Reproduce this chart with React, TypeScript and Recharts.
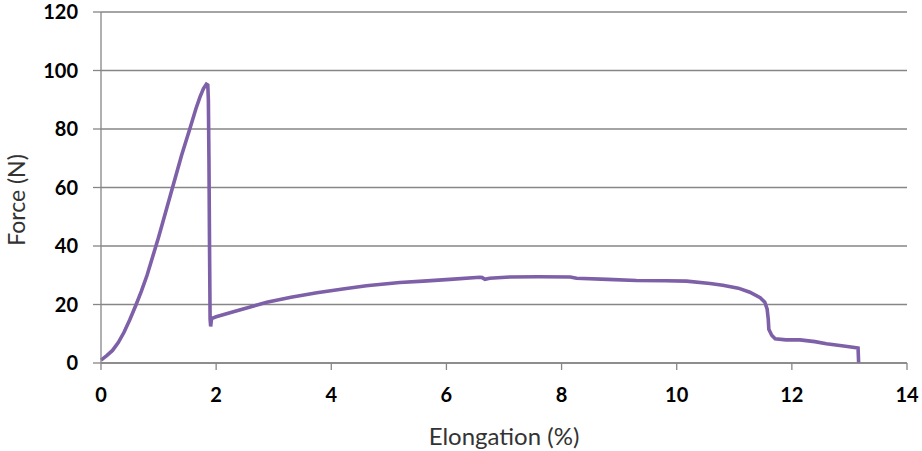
import { LineChart, Line, XAxis, YAxis, CartesianGrid } from "recharts";

// elongation (%) and force (N)
const elongation = [
  0, 0.1, 0.2, 0.3, 0.4, 0.5, 0.6, 0.7, 0.8, 0.9, 1.0, 1.2, 1.4,
  1.55, 1.65, 1.72, 1.78, 1.83, 1.855, 1.865, 1.875, 1.885, 1.895, 1.905,
  1.92, 2.0, 2.3, 2.88, 3.3, 3.75, 4.2, 4.61, 5.19, 5.6, 6.06, 6.58, 6.62,
  6.67, 6.75, 7.1, 7.6, 8.15, 8.26, 8.8, 9.3, 9.8, 10.17, 10.58, 10.8, 11.07,
  11.27, 11.45, 11.53, 11.57, 11.59, 11.6, 11.65, 11.71, 11.9, 12.14, 12.4,
  12.6, 12.9, 13.12, 13.15, 13.16,
];
const force = [
  1, 2.5, 4.3, 7, 10.5, 14.8, 19.5, 24.5, 30, 36.5, 43, 57, 71, 80.5, 87, 91,
  93.8, 95.3, 95, 90, 70, 40, 15, 12.5, 15.2, 15.8, 17.5, 20.8, 22.5, 24,
  25.3, 26.4, 27.5, 28, 28.6, 29.3, 29.2, 28.6, 29, 29.4, 29.5, 29.4, 29,
  28.6, 28.2, 28.1, 28, 27.2, 26.6, 25.6, 24.2, 22.3, 20.8, 18.5, 15, 11.5,
  9.5, 8.3, 7.9, 7.9, 7.3, 6.6, 5.8, 5.2, 5.1, 0,
];
const xTicks = [0, 2, 4, 6, 8, 10, 12, 14];
const yTicks = [0, 20, 40, 60, 80, 100, 120];

const data = elongation.map((x, i) => ({ x, y: force[i] }));

const font = "Lato, 'Open Sans', sans-serif";
const axisGray = "#868686";

export default function App() {
  return (
    <div style={{ position: "absolute", left: 0, top: 0, background: "#fff" }}>
      <LineChart
        width={922}
        height={451}
        data={data}
        margin={{ top: 12, right: 15, left: 0, bottom: 0 }}
      >
        <CartesianGrid vertical={false} stroke={axisGray} strokeWidth={1.3} />
        <XAxis
          dataKey="x"
          type="number"
          domain={[0, 14]}
          ticks={xTicks}
          height={88}
          tickSize={7}
          tickMargin={18}
          axisLine={{ stroke: axisGray, strokeWidth: 1.3 }}
          tickLine={{ stroke: axisGray, strokeWidth: 1.3 }}
          tick={{ fill: "#000", fontSize: 20, fontFamily: font, fontWeight: 700 }}
          label={{
            content: () => (
              <text
                x={504}
                y={445}
                textAnchor="middle"
                fontSize={24}
                fontFamily={font}
                fill="#333"
              >
                Elongation (%)
              </text>
            ),
          }}
        />
        <YAxis
          type="number"
          domain={[0, 120]}
          ticks={yTicks}
          width={101}
          tickSize={8}
          tickMargin={15}
          axisLine={{ stroke: axisGray, strokeWidth: 1.3 }}
          tickLine={{ stroke: axisGray, strokeWidth: 1.3 }}
          tick={{ fill: "#000", fontSize: 20, fontFamily: font, fontWeight: 700 }}
          label={{
            content: () => (
              <text
                x={25}
                y={200}
                transform="rotate(-90 25 200)"
                textAnchor="middle"
                fontSize={23}
                fontFamily={font}
                fill="#333"
              >
                Force (N)
              </text>
            ),
          }}
        />
        <Line
          type="linear"
          dataKey="y"
          stroke="#7E60A8"
          strokeWidth={3.6}
          dot={false}
          isAnimationActive={false}
        />
      </LineChart>
    </div>
  );
}
